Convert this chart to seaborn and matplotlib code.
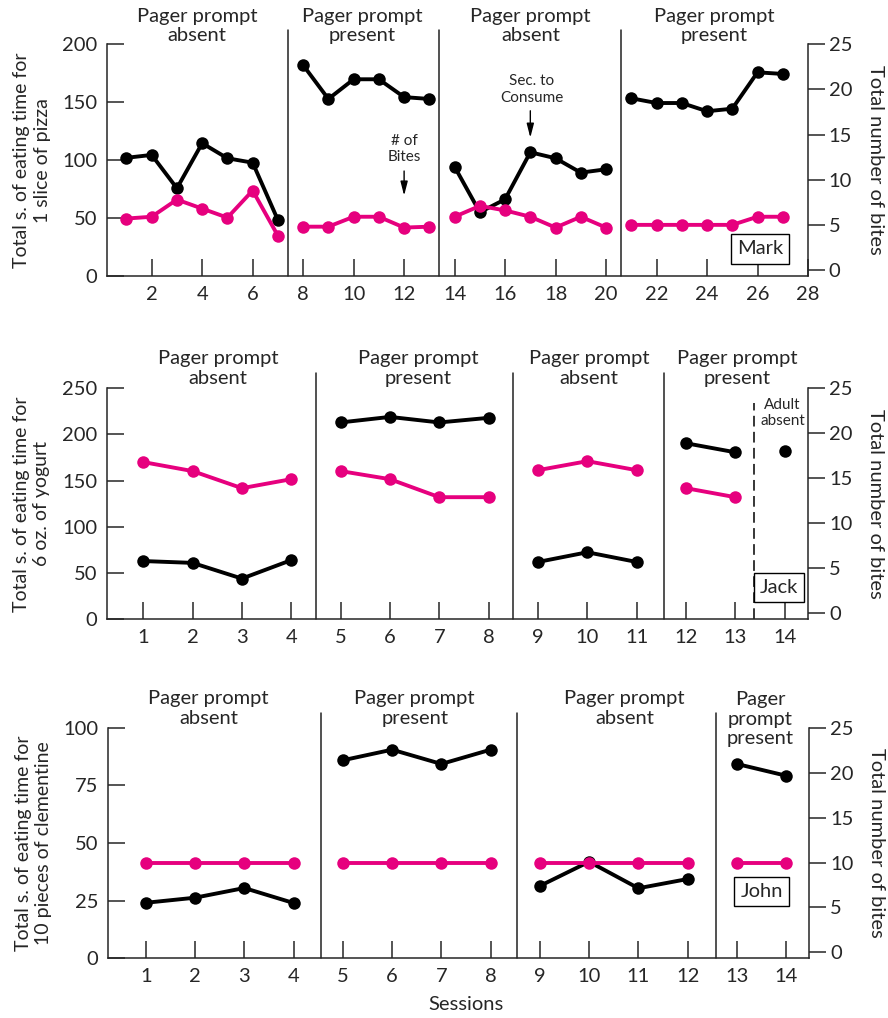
import numpy as np
import pandas as pd
import matplotlib
matplotlib.use("Agg")
import matplotlib.pyplot as plt
import matplotlib.transforms as mtransforms
import seaborn as sns

# --- Mark (pizza) ---
mark_session = list(range(1, 28))
mark_phase = [1] * 7 + [2] * 6 + [3] * 7 + [4] * 7
mark_seconds = [102, 104.5, 75.7, 114.6, 101.6, 97.8, 48.3,
                182, 152.8, 169.8, 169.8, 154.4, 152.8,
                94.3, 55, 66.2, 106.8, 101.6, 89.2, 92.1,
                153.4, 149.3, 149.3, 142.2, 144.4, 175.8, 174.4]
mark_bites = [5.7, 5.9, 7.8, 6.8, 5.8, 8.8, 3.8,
              4.8, 4.8, 5.9, 5.9, 4.7, 4.8,
              5.9, 7.1, 6.6, 5.9, 4.7, 5.9, 4.7,
              5, 5, 5, 5, 5, 5.9, 5.9]

# --- Jack (yogurt) ---  session 14 = adult absent
jack_session = list(range(1, 15))
jack_phase = [1] * 4 + [2] * 4 + [3] * 3 + [4] * 2 + [5]
jack_seconds = [63, 61, 44, 64, 213, 219, 213, 218, 62, 72.5, 62, 190.5, 180.7, 182]
jack_bites = [16.8, 15.8, 13.9, 14.9, 15.8, 14.9, 12.9, 12.9, 15.9, 16.9, 15.9, 13.9, 12.9, np.nan]

# --- John (clementine) ---
john_session = list(range(1, 15))
john_phase = [1] * 4 + [2] * 4 + [3] * 4 + [4] * 2
john_seconds = [24.1, 26.3, 30.5, 24, 85.9, 90.5, 84.3, 90.5, 31.4, 41.9, 30.4, 34.4, 84.3, 79.2]
john_bites = [10] * 14

PINK = "#e6007e"
sns.set_theme(style="ticks")
plt.rcParams["font.family"] = ["Lato", "DejaVu Sans"]

fig = plt.figure(figsize=(8.88, 10.18), dpi=100)

# config de cada painel
paineis = [
    dict(rect=[0.1205, 0.7289, 0.7894, 0.2276], ylim=(0, 200), yticks=[0, 50, 100, 150, 200],
         xlim=(0.23, 28), xticks=list(range(2, 29, 2)), linhas=[7.4, 13.4, 20.6], topo=1.062,
         sess=mark_session, fase=mark_phase, seg=mark_seconds, bites=mark_bites,
         ylabel="Total s. of eating time for\n1 slice of pizza",
         rotulos=[(3.8, 1.079, "Pager prompt\nabsent"), (10.35, 1.079, "Pager prompt\npresent"),
                  (17.0, 1.079, "Pager prompt\nabsent"), (24.3, 1.079, "Pager prompt\npresent")],
         nome=("Mark", 26.1, 23.3)),
    dict(rect=[0.1202, 0.3917, 0.7901, 0.2269], ylim=(0, 250), yticks=[0, 50, 100, 150, 200, 250],
         xlim=(0.26, 14.48), xticks=list(range(1, 15)), linhas=[4.5, 8.5, 11.55], topo=1.066,
         sess=jack_session, fase=jack_phase, seg=jack_seconds, bites=jack_bites,
         ylabel="Total s. of eating time for\n6 oz. of yogurt",
         rotulos=[(2.52, 1.086, "Pager prompt\nabsent"), (6.57, 1.086, "Pager prompt\npresent"),
                  (10.04, 1.086, "Pager prompt\nabsent"), (13.04, 1.086, "Pager prompt\npresent")],
         nome=("Jack", 13.88, 34)),
    dict(rect=[0.1220, 0.0586, 0.7894, 0.2265], ylim=(0, 100), yticks=[0, 25, 50, 75, 100],
         xlim=(0.24, 14.47), xticks=list(range(1, 15)), linhas=[4.55, 8.54, 12.57], topo=1.064,
         sess=john_session, fase=john_phase, seg=john_seconds, bites=john_bites,
         ylabel="Total s. of eating time for\n10 pieces of clementine",
         rotulos=[(2.27, 1.085, "Pager prompt\nabsent"), (6.46, 1.085, "Pager prompt\npresent"),
                  (10.72, 1.085, "Pager prompt\nabsent"), (13.48, 1.038, "Pager\nprompt\npresent")],
         nome=("John", 13.5, 28.9)),
]

for p in paineis:
    ax = fig.add_axes(p["rect"])
    ax2 = ax.twinx()
    df = pd.DataFrame({"sessao": p["sess"], "fase": p["fase"], "seg": p["seg"], "bites": p["bites"]})

    # tempo (preto) no eixo da esquerda, mordidas (rosa) no da direita
    sns.lineplot(data=df, x="sessao", y="seg", units="fase", estimator=None, color="black",
                 marker="o", markersize=9, markeredgewidth=0, linewidth=2.8, ax=ax)
    sns.lineplot(data=df.dropna(), x="sessao", y="bites", units="fase", estimator=None, color=PINK,
                 marker="o", markersize=9, markeredgewidth=0, linewidth=2.8, ax=ax2)

    ax.set_xlim(p["xlim"])
    ax.set_ylim(p["ylim"])
    ax.set_yticks(p["yticks"])
    ax.set_xticks(p["xticks"])
    ax2.set_ylim(-0.66, 25)
    ax2.set_yticks([0, 5, 10, 15, 20, 25])
    ax.set_xlabel("")
    ax.set_ylabel("")
    ax2.set_ylabel("")

    for s in ["top", "right"]:
        ax.spines[s].set_visible(False)
    for s in ["top", "left", "bottom"]:
        ax2.spines[s].set_visible(False)
    for s in ["left", "bottom"]:
        ax.spines[s].set_linewidth(1.1)
    ax2.spines["right"].set_linewidth(1.1)

    ax.tick_params(axis="both", direction="in", length=12, width=1.1, labelsize=14.5, pad=7)
    ax2.tick_params(axis="y", direction="out", length=12, width=1.1, labelsize=14.5, pad=3)

    # linhas separando as fases
    for xl in p["linhas"]:
        ax.axvline(xl, ymin=0, ymax=p["topo"], color="#222222", linewidth=1.1, clip_on=False)

    trans = mtransforms.blended_transform_factory(ax.transData, ax.transAxes)
    for xr, yr, txt in p["rotulos"]:
        ax.text(xr, yr, txt, transform=trans, ha="center", va="center", fontsize=14.5,
                linespacing=1.2)

    ax.text(-0.107, 0.5, p["ylabel"], transform=ax.transAxes, rotation=90, ha="center",
            va="center", multialignment="center", fontsize=14, linespacing=1.25)
    ax.text(1.0956, 0.5, "Total number of bites", transform=ax.transAxes, rotation=270,
            ha="center", va="center", fontsize=14.5)

    nm, nx, ny = p["nome"]
    ax.text(nx, ny, nm, ha="center", va="center", fontsize=14.5, zorder=5,
            bbox=dict(boxstyle="square,pad=0.3", facecolor="white", edgecolor="black", linewidth=1))

    if nm == "Mark":
        ax.text(12, 109.5, "# of\nBites", ha="center", va="center", fontsize=11, linespacing=1.2)
        ax.annotate("", xy=(12, 67), xytext=(12, 93),
                    arrowprops=dict(arrowstyle="-|>,head_length=0.7,head_width=0.18", color="black", lw=1))
        ax.text(17.05, 161, "Sec. to\nConsume", ha="center", va="center", fontsize=11, linespacing=1.2)
        ax.annotate("", xy=(17, 117), xytext=(17, 145),
                    arrowprops=dict(arrowstyle="-|>,head_length=0.7,head_width=0.18", color="black", lw=1))
    if nm == "Jack":
        ax.axvline(13.37, ymin=0, ymax=0.936, color="black", linewidth=1.1,
                   linestyle=(0, (7, 3.5)))
        ax.text(13.96, 223, "Adult\nabsent", ha="center", va="center", fontsize=11, linespacing=1.2)

fig.text(0.5253, 0.0128, "Sessions", ha="center", va="center", fontsize=14.5)

plt.savefig("out.png", dpi=100)
